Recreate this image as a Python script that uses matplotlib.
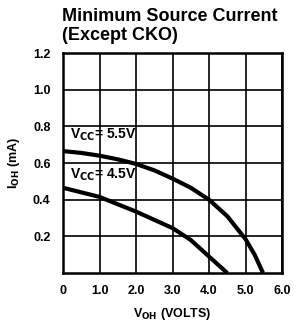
import matplotlib
matplotlib.use('Agg')
from matplotlib import pyplot as plt

# Curve data.
v_55 = [0.0, 0.5, 1.0, 1.5, 2.0, 2.5, 3.0, 3.5, 4.0, 4.5, 5.0, 5.25, 5.48]
i_55 = [0.665, 0.655, 0.64, 0.62, 0.595, 0.56, 0.515, 0.465, 0.40, 0.31, 0.185, 0.10, 0.0]
v_45 = [0.0, 0.5, 1.0, 1.5, 2.0, 2.5, 3.0, 3.5, 4.0, 4.25, 4.5]
i_45 = [0.465, 0.44, 0.415, 0.375, 0.335, 0.29, 0.245, 0.18, 0.09, 0.045, 0.0]

x_ticks = [0, 1, 2, 3, 4, 5, 6]
x_labels = ['0', '1.0', '2.0', '3.0', '4.0', '5.0', '6.0']
y_ticks = [0.2, 0.4, 0.6, 0.8, 1.0, 1.2]
y_labels = ['0.2', '0.4', '0.6', '0.8', '1.0', '1.2']

plt.rcParams['font.family'] = ['Liberation Sans', 'DejaVu Sans']

fig = plt.figure(dpi=100, figsize=(2.96, 3.25))
ax = fig.add_axes([63 / 296, 1 - 273 / 325, 219 / 296, 220 / 325])

ax.plot(v_55, i_55, c='black', lw=3, solid_capstyle='butt')
ax.plot(v_45, i_45, c='black', lw=3, solid_capstyle='butt')

ax.text(0.2, 0.735, 'V$_{\\mathbf{CC}}$= 5.5V', fontsize=10, fontweight='bold')
ax.text(0.2, 0.515, 'V$_{\\mathbf{CC}}$= 4.5V', fontsize=10, fontweight='bold')

# Format plot.
ax.set_xlim(0, 6)
ax.set_ylim(0, 1.2)
ax.set_xticks(x_ticks)
ax.set_xticklabels(x_labels, fontsize=9, fontweight='bold')
ax.set_yticks(y_ticks)
ax.set_yticklabels(y_labels, fontsize=9, fontweight='bold')
ax.tick_params(length=0, pad=9)
ax.grid(True, color='black', lw=1.2)
for s in ax.spines.values():
    s.set_linewidth(1.8)

ax.set_xlabel('V$_{\\mathbf{OH}}$ (VOLTS)', fontsize=9, fontweight='bold', labelpad=6)
ax.set_ylabel('I$_{\\mathbf{OH}}$ (mA)', fontsize=9, fontweight='bold', labelpad=8)

fig.text(62 / 296, 1 - 8 / 325, 'Minimum Source Current\n(Except CKO)',
         fontsize=13, fontweight='heavy', va='top', ha='left', linespacing=1.12)

fig.savefig('out.png', dpi=100)
